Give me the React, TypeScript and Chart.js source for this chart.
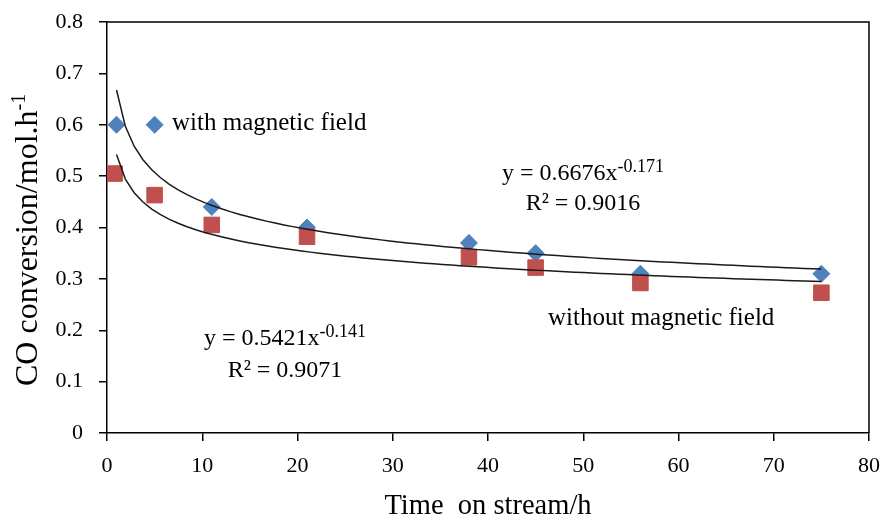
import React, { useEffect, useRef } from "react";
import { Chart, registerables } from "chart.js";

Chart.register(...registerables);

// ---- data ----
const timeWith = [1, 5, 11, 21, 38, 45, 56, 75];
const convWith = [0.6, 0.6, 0.44, 0.4, 0.37, 0.35, 0.31, 0.31];
const timeWithout = [0.8, 5, 11, 21, 38, 45, 56, 75];
const convWithout = [0.505, 0.463, 0.405, 0.382, 0.342, 0.322, 0.292, 0.273];

// power trendline coefficients (y = a * x^b) as printed on the chart
const fitWithA = 0.6676;
const fitWithB = -0.171;
const fitWithoutA = 0.5421;
const fitWithoutB = -0.141;
const fitStart = 1;
const fitEnd = 75;

const xLabel = "Time  on stream/h";
const yLabelMain = "CO conversion/mol.h";
const yLabelSup = "-1";
const labelWith = "with magnetic field";
const labelWithout = "without magnetic field";
const eqWithMain = "y = 0.6676x";
const eqWithSup = "-0.171";
const r2With = "R² = 0.9016";
const eqWithoutMain = "y = 0.5421x";
const eqWithoutSup = "-0.141";
const r2Without = "R² = 0.9071";

const FONT = "'Liberation Serif', 'Times New Roman', serif";
const BLUE = "#4F81BD";
const RED = "#C0504D";

function trend(a: number, b: number) {
  const pts: { x: number; y: number }[] = [];
  const n = 80;
  for (let i = 0; i <= n; i++) {
    const x = fitStart + ((fitEnd - fitStart) * i) / n;
    pts.push({ x, y: a * Math.pow(x, b) });
  }
  return pts;
}

function drawSup(
  ctx: CanvasRenderingContext2D,
  main: string,
  sup: string,
  cx: number,
  baseline: number,
  mainSize: number,
  supSize: number,
  raise: number,
  align: "center" | "left"
) {
  ctx.font = `${mainSize}px ${FONT}`;
  const wm = ctx.measureText(main).width;
  ctx.font = `${supSize}px ${FONT}`;
  const ws = ctx.measureText(sup).width;
  const start = align === "center" ? cx - (wm + ws) / 2 : cx;
  ctx.textAlign = "left";
  ctx.textBaseline = "alphabetic";
  ctx.font = `${mainSize}px ${FONT}`;
  ctx.fillText(main, start, baseline);
  ctx.font = `${supSize}px ${FONT}`;
  ctx.fillText(sup, start + wm, baseline - raise);
}

const overlayPlugin = {
  id: "overlay",
  afterDraw(chart: any) {
    const ctx: CanvasRenderingContext2D = chart.ctx;
    const { left, right, top, bottom } = chart.chartArea;
    ctx.save();
    // top & right frame
    ctx.strokeStyle = "#000";
    ctx.lineWidth = 1.5;
    ctx.beginPath();
    ctx.moveTo(left, top);
    ctx.lineTo(right, top);
    ctx.lineTo(right, bottom);
    ctx.stroke();

    ctx.fillStyle = "#000";
    ctx.textBaseline = "alphabetic";
    ctx.textAlign = "left";

    // series labels
    ctx.font = `25px ${FONT}`;
    ctx.fillText(labelWith, 172, 130);
    ctx.fillText(labelWithout, 548, 325);

    // equations
    drawSup(ctx, eqWithMain, eqWithSup, 583, 180, 24, 18, 8, "center");
    ctx.font = `24px ${FONT}`;
    ctx.textAlign = "center";
    ctx.fillText(r2With, 583, 210);
    drawSup(ctx, eqWithoutMain, eqWithoutSup, 285, 345, 24, 18, 8, "center");
    ctx.font = `24px ${FONT}`;
    ctx.textAlign = "center";
    ctx.fillText(r2Without, 285, 377);

    // x title
    ctx.font = `28.5px ${FONT}`;
    ctx.textAlign = "center";
    ctx.fillText(xLabel, 488, 514);

    // y title
    ctx.translate(37, 386);
    ctx.rotate(-Math.PI / 2);
    drawSup(ctx, yLabelMain, yLabelSup, 0, 0, 32, 20, 12, "left");
    ctx.restore();
  },
};

export default function App() {
  const ref = useRef<HTMLCanvasElement | null>(null);

  useEffect(() => {
    if (!ref.current) return;
    const tickFont = { family: FONT, size: 22 };
    const chart = new Chart(ref.current, {
      type: "scatter",
      data: {
        datasets: [
          {
            label: "with magnetic field trend",
            data: trend(fitWithA, fitWithB),
            showLine: true,
            borderColor: "#1a1a1a",
            borderWidth: 1.5,
            pointRadius: 0,
            order: 0,
          },
          {
            label: "without magnetic field trend",
            data: trend(fitWithoutA, fitWithoutB),
            showLine: true,
            borderColor: "#1a1a1a",
            borderWidth: 1.5,
            pointRadius: 0,
            order: 0,
          },
          {
            label: "without magnetic field",
            data: timeWithout.map((x, i) => ({ x, y: convWithout[i] })),
            pointStyle: "rect",
            pointRadius: 11,
            backgroundColor: RED,
            borderColor: RED,
            borderWidth: 1,
            order: 1,
          },
          {
            label: "with magnetic field",
            data: timeWith.map((x, i) => ({ x, y: convWith[i] })),
            pointStyle: "rectRot",
            pointRadius: 8.5,
            backgroundColor: BLUE,
            borderColor: BLUE,
            borderWidth: 1,
            order: 2,
          },
        ],
      },
      options: {
        animation: false,
        responsive: true,
        maintainAspectRatio: false,
        layout: { padding: { top: 22, right: 15, left: 0, bottom: 0 } },
        plugins: { legend: { display: false }, tooltip: { enabled: false } },
        scales: {
          x: {
            type: "linear",
            min: 0,
            max: 80,
            ticks: {
              stepSize: 10,
              font: tickFont,
              color: "#000",
              padding: 12,
              maxRotation: 0,
            },
            grid: {
              display: true,
              drawOnChartArea: false,
              drawTicks: true,
              tickLength: 8,
              color: "#000",
              lineWidth: 1.5,
            },
            border: { display: true, color: "#000", width: 1.5 },
            afterFit: (s: any) => {
              s.height = 84;
              s.paddingLeft = 0;
              s.paddingRight = 0;
            },
          },
          y: {
            type: "linear",
            min: 0,
            max: 0.8,
            ticks: {
              stepSize: 0.1,
              font: tickFont,
              color: "#000",
              padding: 16,
              callback: (v: any) => (Number(v) === 0 ? "0" : Number(v).toFixed(1)),
            },
            grid: {
              display: true,
              drawOnChartArea: false,
              drawTicks: true,
              tickLength: 8,
              color: "#000",
              lineWidth: 1.5,
            },
            border: { display: true, color: "#000", width: 1.5 },
            afterFit: (s: any) => {
              s.width = 107;
              s.paddingTop = 0;
              s.paddingBottom = 0;
            },
          },
        },
      },
      plugins: [overlayPlugin],
    });
    return () => chart.destroy();
  }, []);

  return (
    <div
      style={{
        position: "absolute",
        left: 0,
        top: 0,
        width: 884,
        height: 517,
        background: "#fff",
      }}
    >
      <canvas ref={ref} />
    </div>
  );
}
